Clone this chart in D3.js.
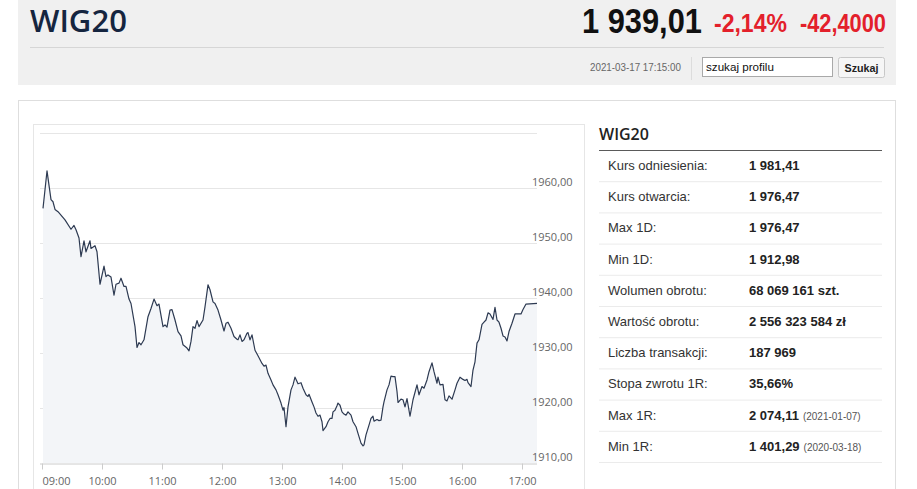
<!DOCTYPE html>
<html>
<head>
<meta charset="utf-8">
<script src="https://cdn.jsdelivr.net/npm/d3@7"></script>
<style>
  html, body { margin: 0; padding: 0; background: #fff; }
  svg { display: block; }
</style>
</head>
<body>
<svg id="page" width="917" height="489"></svg>
<script>
// ---------- DATA ----------
const times = ["09:01","09:05","09:09","09:11","09:13","09:16","09:23","09:29","09:32","09:34","09:37","09:39","09:42","09:44","09:48","09:49","09:53","09:55","09:58",
"10:02","10:04","10:06","10:09","10:12","10:14","10:17","10:19","10:22","10:24","10:27","10:29","10:33","10:35","10:37","10:39","10:42","10:46","10:49","10:52","10:55","10:57",
"11:01","11:03","11:05","11:08","11:10","11:13","11:16","11:19","11:21","11:25","11:27","11:29","11:31","11:33","11:35","11:37","11:41","11:43","11:46","11:48","11:51","11:53","11:56","11:59",
"12:02","12:04","12:06","12:09","12:12","12:15","12:16","12:18","12:20","12:22","12:25","12:26","12:28","12:30","12:33","12:36","12:40","12:42","12:44","12:46","12:49","12:51","12:54","12:56","12:59",
"13:01","13:02","13:04","13:06","13:09","13:11","13:13","13:15","13:16","13:19","13:21","13:24","13:26","13:27","13:30","13:32","13:34","13:36","13:38","13:40","13:41","13:44","13:46","13:48","13:50","13:51","13:53","13:55","13:56","13:58",
"14:00","14:02","14:04","14:06","14:09","14:11","14:14","14:16","14:19","14:21","14:22","14:24","14:26","14:27","14:29","14:31","14:32","14:35","14:37","14:39","14:41","14:42","14:45","14:47","14:49","14:51","14:53","14:55","14:56","14:59",
"15:01","15:03","15:05","15:08","15:11","15:15","15:17","15:20","15:22","15:25","15:27","15:30","15:32","15:35","15:36","15:38","15:41","15:43","15:45","15:47","15:50","15:53","15:55","15:58",
"16:01","16:03","16:05","16:06","16:09","16:11","16:13","16:15","16:17","16:20","16:22","16:24","16:26","16:28","16:31","16:33","16:35","16:37","16:39","16:41","16:43","16:45","16:47","16:50","16:53","16:56","16:59",
"17:01","17:04","17:15"];
const values = [1956.3,1963.1,1957.9,1957.5,1956.1,1955.7,1954.2,1952.5,1953.2,1952.4,1950.9,1947.5,1950.4,1948.4,1950.4,1949.0,1949.5,1948.4,1942.5,
1945.8,1943.9,1944.2,1943.8,1940.5,1942.5,1942.7,1943.6,1942.1,1942.1,1939.8,1939.0,1934.8,1931.0,1931.9,1931.5,1932.4,1936.6,1938.1,1939.8,1938.6,1938.9,
1934.8,1935.1,1934.7,1937.8,1937.9,1936.0,1933.9,1933.1,1931.5,1930.9,1930.4,1932.1,1934.8,1934.5,1935.9,1934.8,1936.0,1938.4,1942.4,1941.5,1939.3,1939.0,1937.8,1936.0,
1934.0,1935.4,1935.6,1934.5,1933.0,1932.5,1932.4,1933.3,1932.1,1932.4,1933.6,1933.7,1932.4,1933.3,1930.5,1929.5,1928.1,1927.6,1927.8,1926.3,1925.1,1924.2,1923.3,1922.4,1920.9,
1919.6,1920.1,1916.6,1920.2,1923.3,1924.2,1925.6,1924.8,1924.4,1924.6,1923.6,1922.4,1922.1,1922.5,1921.1,1920.2,1919.1,1918.5,1918.7,1917.5,1915.9,1916.6,1917.5,1918.1,1918.1,1919.3,1919.6,1920.4,1920.9,1920.5,
1919.3,1918.9,1918.7,1919.3,1918.7,1917.5,1916.6,1915.4,1913.6,1913.1,1913.3,1915.1,1916.3,1916.9,1918.1,1918.5,1917.6,1917.9,1917.7,1917.8,1920.2,1921.1,1923.3,1924.2,1925.8,1925.7,1925.7,1923.0,1921.0,1921.6,
1921.5,1920.2,1921.7,1918.5,1921.5,1924.2,1922.4,1923.9,1923.6,1925.1,1926.6,1928.2,1926.6,1924.5,1925.6,1924.2,1924.3,1921.5,1921.3,1922.2,1921.6,1923.3,1924.5,1925.6,
1925.2,1925.0,1925.2,1924.6,1923.9,1926.9,1928.4,1931.8,1932.4,1935.2,1935.6,1936.0,1937.3,1937.1,1936.1,1938.3,1936.0,1935.6,1934.5,1933.1,1932.9,1932.2,1933.9,1935.4,1937.1,1937.1,1937.1,
1937.9,1938.9,1939.01];

const yTicks = [1910, 1920, 1930, 1940, 1950, 1960, 1970];
const yLabelTicks = [1910, 1920, 1930, 1940, 1950, 1960];
const xTickLabels = ["09:00","10:00","11:00","12:00","13:00","14:00","15:00","16:00","17:00"];

const title = "WIG20";
const lastPrice = "1 939,01";
const changePct = "-2,14%";
const changeAbs = "-42,4000";
const timestamp = "2021-03-17 17:15:00";

const rowLabels = ["Kurs odniesienia:","Kurs otwarcia:","Max 1D:","Min 1D:","Wolumen obrotu:","Wartość obrotu:","Liczba transakcji:","Stopa zwrotu 1R:","Max 1R:","Min 1R:"];
const rowValues = ["1 981,41","1 976,47","1 976,47","1 912,98","68 069 161 szt.","2 556 323 584 zł","187 969","35,66%","2 074,11","1 401,29"];
const rowDates  = ["","","","","","","","","(2021-01-07)","(2020-03-18)"];

// ---------- DRAW ----------
const svg = d3.select("#page");
const parse = d3.timeParse("%H:%M");
const data = times.map((t, i) => ({ t: parse(t), v: values[i] }));

// helper: place a text at (x, y) and scale it horizontally to a target width
function fitText(parent, str, x, y, width, attrs, anchor) {
  const g = parent.append("g");
  const t = g.append("text").attr("x", 0).attr("y", 0).text(str);
  Object.entries(attrs).forEach(([k, v]) => t.attr(k, v));
  const w = t.node().getComputedTextLength() || width;
  const s = width / w;
  const x0 = anchor === "end" ? x - width : (anchor === "middle" ? x - width / 2 : x);
  g.attr("transform", `translate(${x0},${y}) scale(${s},1)`);
  return t;
}

// Header band
svg.append("rect").attr("x", 18).attr("y", 0).attr("width", 878).attr("height", 85).attr("fill", "#f0f0f0");
svg.append("line").attr("x1", 30).attr("x2", 884).attr("y1", 47.5).attr("y2", 47.5).attr("stroke", "#d6d6d6");

const narrow = "'Liberation Sans Narrow','Liberation Sans',Arial,sans-serif";
fitText(svg, title, 30, 32, 97, {"font-family": "'Open Sans', sans-serif", "font-weight": 600, "font-size": 31, "fill": "#15253f"});
fitText(svg, lastPrice, 582, 33, 120, {"font-family": narrow, "font-weight": 700, "font-size": 36, "fill": "#111"});
fitText(svg, changePct, 714, 32, 73, {"font-family": narrow, "font-weight": 700, "font-size": 26, "fill": "#e3202b"});
fitText(svg, changeAbs, 800, 32, 86, {"font-family": narrow, "font-weight": 700, "font-size": 26, "fill": "#e3202b"});

fitText(svg, timestamp, 681, 71, 91, {"font-family": "'Liberation Sans',Arial,sans-serif", "font-size": 10, "fill": "#666"}, "end");
svg.append("line").attr("x1", 691.5).attr("x2", 691.5).attr("y1", 57).attr("y2", 80).attr("stroke", "#dcdcdc");

svg.append("rect").attr("x", 702.5).attr("y", 57.5).attr("width", 130).attr("height", 19)
  .attr("fill", "#fff").attr("stroke", "#a9a9a9");
fitText(svg, "szukaj profilu", 706, 71, 68, {"font-family": "'Liberation Sans',Arial,sans-serif", "font-size": 11, "fill": "#111"});

svg.append("rect").attr("x", 838.5).attr("y", 57.5).attr("width", 46).attr("height", 20).attr("rx", 2)
  .attr("fill", "#f6f6f6").attr("stroke", "#c8c8c8");
fitText(svg, "Szukaj", 861.5, 72, 34, {"font-family": "'Liberation Sans',Arial,sans-serif", "font-weight": 700, "font-size": 11, "fill": "#222"}, "middle");

// Main panel
svg.append("rect").attr("x", 18.5).attr("y", 100.5).attr("width", 877).attr("height", 420)
  .attr("fill", "#fff").attr("stroke", "#dedede");
// Chart box
svg.append("rect").attr("x", 33.5).attr("y", 124.5).attr("width", 551).attr("height", 400)
  .attr("fill", "#fff").attr("stroke", "#e6e6e6");

// Scales
const x = d3.scaleTime().domain([parse("09:00"), parse("17:15")]).range([42, 537]);
const y = d3.scaleLinear().domain([1910, 1970]).range([463, 133]);

// Area + line
const area = d3.area().x(d => x(d.t)).y0(y(1910)).y1(d => y(d.v));
const line = d3.line().x(d => x(d.t)).y(d => y(d.v));

// Grid
svg.append("g").selectAll("line").data(yTicks.filter(v => v !== 1910)).join("line")
  .attr("x1", 40).attr("x2", 537)
  .attr("y1", d => Math.round(y(d)) + 0.5).attr("y2", d => Math.round(y(d)) + 0.5)
  .attr("stroke", "#e6e6e6");

svg.append("path").datum(data).attr("d", area).attr("fill", "#f3f5f8");
svg.append("path").datum(data).attr("d", line).attr("fill", "none")
  .attr("stroke", "#2d3a52").attr("stroke-width", 1.2).attr("stroke-linejoin", "round");

// Y labels
svg.append("g").selectAll("text").data(yLabelTicks).join("text")
  .attr("x", 532).attr("y", d => y(d) - 2)
  .attr("font-family", "'Open Sans', sans-serif").attr("font-size", 11).attr("fill", "#666")
  .text(d => d3.format(".2f")(d).replace(".", ","));

// X axis
const xAxis = d3.axisBottom(x)
  .tickValues(xTickLabels.map(parse))
  .tickFormat(d3.timeFormat("%H:%M"))
  .tickSize(6).tickSizeOuter(0);
const gx = svg.append("g").attr("transform", "translate(0,463.5)").call(xAxis);
gx.select(".domain").attr("stroke", "#cccccc").attr("d", "M40,0.5H537");
gx.selectAll(".tick line").attr("stroke", "#cccccc");
gx.selectAll(".tick text").attr("font-family", "'Open Sans', sans-serif").attr("font-size", 11)
  .attr("fill", "#666").attr("dy", "1.1em");
gx.selectAll(".tick text").filter((d, i) => i === 0).attr("text-anchor", "start").attr("dx", "0");

// Right table
svg.append("text").attr("x", 599).attr("y", 140)
  .attr("font-family", "'Open Sans', sans-serif").attr("font-weight", 600).attr("font-size", 16)
  .attr("fill", "#222").text(title);
svg.append("line").attr("x1", 599).attr("x2", 882).attr("y1", 150.5).attr("y2", 150.5).attr("stroke", "#5a5a5a");

const rowH = 31.2;
const rows = svg.append("g").selectAll("g").data(rowLabels).join("g")
  .attr("transform", (d, i) => `translate(0,${150 + i * rowH})`);
rows.append("line").attr("x1", 599).attr("x2", 882).attr("y1", rowH + 0.5).attr("y2", rowH + 0.5).attr("stroke", "#ebebeb");
rows.append("text").attr("x", 608).attr("y", 20)
  .attr("font-family", "'Liberation Sans',Arial,sans-serif").attr("font-size", 13).attr("fill", "#333")
  .text(d => d);
const valText = rows.append("text").attr("x", 749).attr("y", 20)
  .attr("font-family", "'Liberation Sans',Arial,sans-serif").attr("font-size", 13).attr("fill", "#222");
valText.append("tspan").attr("font-weight", 700).text((d, i) => rowValues[i]);
valText.append("tspan").attr("font-size", 10).attr("fill", "#555").attr("dx", 4)
  .text((d, i) => rowDates[i]);
</script>
</body>
</html>
